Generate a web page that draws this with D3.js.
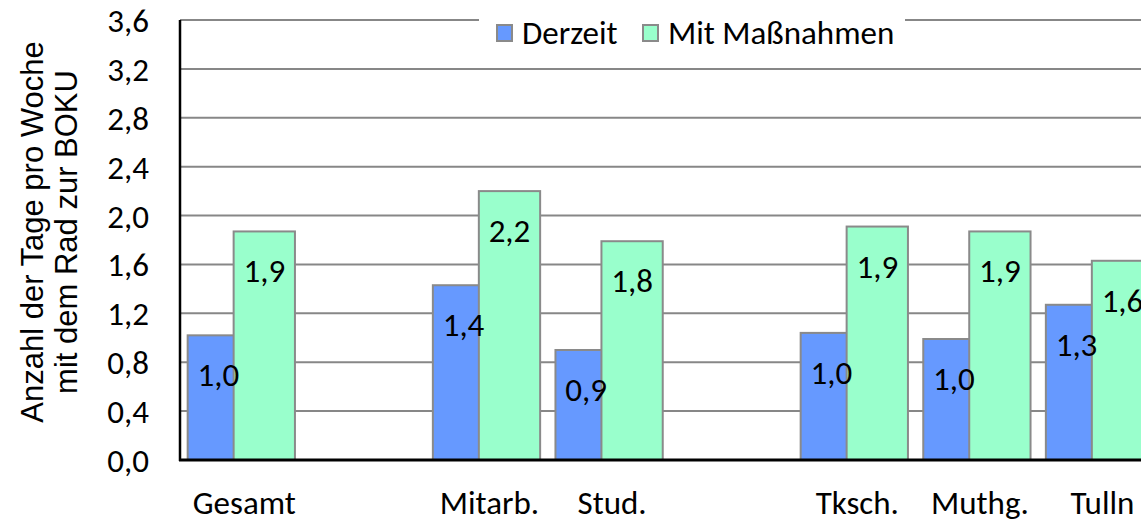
<!DOCTYPE html>
<html>
<head>
<meta charset="utf-8">
<script src="https://cdn.jsdelivr.net/npm/d3@7"></script>
<style>
  body { margin: 0; background: #fff; }
  svg { display: block; }
  .lbl { font-family: Calibri, Carlito, Lato, sans-serif; font-size: 33px; fill: #000; }
  .ytitle { font-family: "Liberation Sans", Arial, sans-serif; font-size: 31px; fill: #000; }
</style>
</head>
<body>
<svg width="1141" height="522"></svg>
<script>
// categories (blank ones are the gaps between groups)
var categories = ["Gesamt", "", "Mitarb.", "Stud.", "", "Tksch.", "Muthg.", "Tulln"];
var derzeit   = [1.02, null, 1.43, 0.90, null, 1.04, 0.99, 1.27];
var massnahme = [1.87, null, 2.20, 1.79, null, 1.91, 1.87, 1.63];
var seriesNames = ["Derzeit", "Mit Maßnahmen"];
var yTicks = [0, 0.4, 0.8, 1.2, 1.6, 2.0, 2.4, 2.8, 3.2, 3.6];

var colors = ["#6699ff", "#99ffcc"];
var fmt = function (v) { return d3.format(".1f")(v).replace(".", ","); };

var svg = d3.select("svg");
var plotLeft = 180, plotTop = 20, plotBottom = 460;
var step = 122.6;

var x = d3.scaleBand()
    .domain(d3.range(categories.length))
    .range([plotLeft, plotLeft + step * categories.length])
    .paddingInner(0).paddingOuter(0);

var y = d3.scaleLinear()
    .domain([0, 3.6])
    .range([plotBottom, plotTop]);

var barW = x.bandwidth() * 0.5;
var offs = [x.bandwidth() * 0.0625, x.bandwidth() * 0.4375];

// gridlines
svg.append("g")
    .selectAll("line")
    .data(yTicks.slice(1))
    .enter().append("line")
    .attr("x1", plotLeft).attr("x2", 1141)
    .attr("y1", function (d) { return y(d); })
    .attr("y2", function (d) { return y(d); })
    .attr("stroke", "#878787")
    .attr("stroke-width", 2);

// y tick labels
svg.append("g")
    .selectAll("text")
    .data(yTicks)
    .enter().append("text")
    .attr("class", "lbl")
    .attr("x", 149)
    .attr("y", function (d) { return y(d) + 12; })
    .attr("text-anchor", "end")
    .text(fmt);

// bars, blue first then green over it
var series = [derzeit, massnahme];
series.forEach(function (vals, s) {
    svg.append("g")
        .selectAll("rect")
        .data(vals.map(function (v, i) { return { i: i, v: v }; }).filter(function (d) { return d.v != null; }))
        .enter().append("rect")
        .attr("x", function (d) { return x(d.i) + offs[s]; })
        .attr("y", function (d) { return y(d.v); })
        .attr("width", barW)
        .attr("height", function (d) { return plotBottom - y(d.v); })
        .attr("fill", colors[s])
        .attr("stroke", "#8a8a8a")
        .attr("stroke-width", 2);
});

// value labels (inside end)
series.forEach(function (vals, s) {
    svg.append("g")
        .selectAll("text")
        .data(vals.map(function (v, i) { return { i: i, v: v }; }).filter(function (d) { return d.v != null; }))
        .enter().append("text")
        .attr("class", "lbl")
        .attr("x", function (d) { return x(d.i) + offs[s] + barW / 2; })
        .attr("y", function (d) { return y(d.v) + 51; })
        .attr("text-anchor", "middle")
        .text(function (d) { return fmt(d.v); });
});

// axes lines
svg.append("line")
    .attr("x1", plotLeft).attr("x2", plotLeft).attr("y1", plotTop).attr("y2", plotBottom + 1)
    .attr("stroke", "#000").attr("stroke-width", 2.5);
svg.append("line")
    .attr("x1", plotLeft - 1).attr("x2", 1141).attr("y1", plotBottom).attr("y2", plotBottom)
    .attr("stroke", "#000").attr("stroke-width", 3);

// category labels
svg.append("g")
    .selectAll("text")
    .data(categories.map(function (c, i) { return { c: c, i: i }; }))
    .enter().append("text")
    .attr("class", "lbl")
    .attr("x", function (d) { return x(d.i) + x.bandwidth() / 2 + 3; })
    .attr("y", 514)
    .attr("text-anchor", "middle")
    .text(function (d) { return d.c; });

// y axis title
var yt = svg.append("text")
    .attr("class", "ytitle")
    .attr("transform", "translate(0,232) rotate(-90)")
    .attr("text-anchor", "middle");
yt.append("tspan").attr("x", 0).attr("y", 43).text("Anzahl der Tage pro Woche");
yt.append("tspan").attr("x", 0).attr("y", 77).text("mit dem Rad zur BOKU");

// legend
var lg = svg.append("g");
lg.append("rect")
    .attr("x", 479).attr("y", 8).attr("width", 426).attr("height", 44)
    .attr("fill", "#fff");
var legX = [497, 643];
seriesNames.forEach(function (n, s) {
    lg.append("rect")
        .attr("x", legX[s]).attr("y", 25).attr("width", 15).attr("height", 16)
        .attr("fill", colors[s]).attr("stroke", "#8a8a8a").attr("stroke-width", 2);
    lg.append("text")
        .attr("class", "lbl")
        .attr("x", legX[s] + 25)
        .attr("y", 44)
        .text(n);
});
</script>
</body>
</html>
